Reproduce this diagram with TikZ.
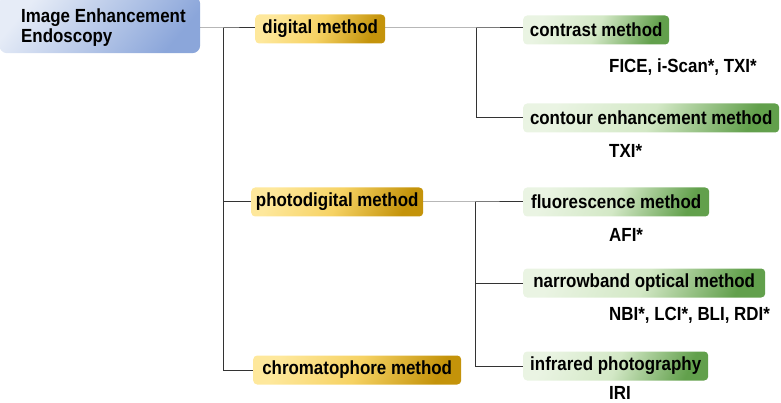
\documentclass[tikz,border=0pt]{standalone}
\usepackage{fontspec}
\setmainfont[FakeStretch=0.89]{Liberation Sans}
\definecolor{yLight}{HTML}{FEE89C}
\definecolor{yMid}{HTML}{F6D263}
\definecolor{yDark}{HTML}{C4930A}
\definecolor{gLight}{HTML}{EAF4E3}
\definecolor{gMid}{HTML}{D3E8C6}
\definecolor{gDark}{HTML}{62A04C}
\definecolor{bLight}{HTML}{E6ECF7}
\definecolor{bDark}{HTML}{8BA6DA}
\definecolor{lineC}{HTML}{333333}
\tikzset{
  txt/.style={font=\fontsize{19}{20}\selectfont\bfseries},
  base/.style={txt, rectangle, rounded corners=4pt, inner sep=0pt, anchor=west,
    text=black, minimum height=29pt},
  yel/.style={base, top color=yLight, bottom color=yDark, middle color=yMid, shading angle=65},
  grn/.style={base, top color=gLight, bottom color=gDark, middle color=gMid, shading angle=65},
  rootbox/.style={rectangle, rounded corners=8pt, inner sep=0pt, anchor=north west,
    top color=bLight, bottom color=bDark, shading angle=50,
    minimum width=201pt, minimum height=57pt},
  lbl/.style={txt, anchor=west, inner sep=0pt},
  conn/.style={draw=lineC, line width=1pt}
}
\begin{document}
\begin{tikzpicture}[x=1pt,y=-1pt]
\useasboundingbox (0,0) rectangle (781,403);
% root
\node[rootbox] (root) at (-1,-4) {};
\node[lbl, align=left] (rootT) at (21,28) {Image Enhancement\\Endoscopy};
% level 1
\node[yel, minimum width=130pt] (dig) at (255,29) {digital method};
\node[yel, minimum width=172pt] (photo) at (251,202) {photodigital method};
\node[yel, minimum width=208pt] (chrom) at (253,370) {chromatophore method};
% level 2
\node[grn, minimum width=146pt] (contr) at (523,30) {contrast method};
\node[grn, minimum width=256pt] (contour) at (523,118) {contour enhancement method};
\node[grn, minimum width=186pt] (fluo) at (523,202) {fluorescence method};
\node[grn, minimum width=242pt] (narrow) at (523,283) {narrowband optical method};
\node[grn, minimum width=185pt] (infra) at (523,366) {infrared photography};
% labels
\node[lbl] (l1) at (609,67) {FICE, i-Scan*, TXI*};
\node[lbl] (l2) at (609,151) {TXI*};
\node[lbl] (l3) at (609,235) {AFI*};
\node[lbl] (l4) at (609,315) {NBI*, LCI*, BLI, RDI*};
\node[lbl] (l5) at (609,393) {IRI};
% junctions
\coordinate (j0) at (223,28);
\coordinate (j1) at (476,28);
\coordinate (j2) at (475,202);
% connectors
\draw[conn] (root.east |- j0) -- (j0) -- (j0 -| dig.west);
\draw[conn] (j0) -- (j0 |- chrom.west) -- (chrom.west);
\draw[conn] (j0 |- photo.west) -- (photo.west);
\draw[conn] (dig.east |- j1) -- (j1) -- (j1 -| contr.west);
\draw[conn] (j1) -- (j1 |- contour.west) -- (contour.west);
\draw[conn] (photo.east) -- (j2) -- (fluo.west);
\draw[conn] (j2) -- (j2 |- infra.west) -- (infra.west);
\draw[conn] (j2 |- narrow.west) -- (narrow.west);
\end{tikzpicture}
\end{document}
